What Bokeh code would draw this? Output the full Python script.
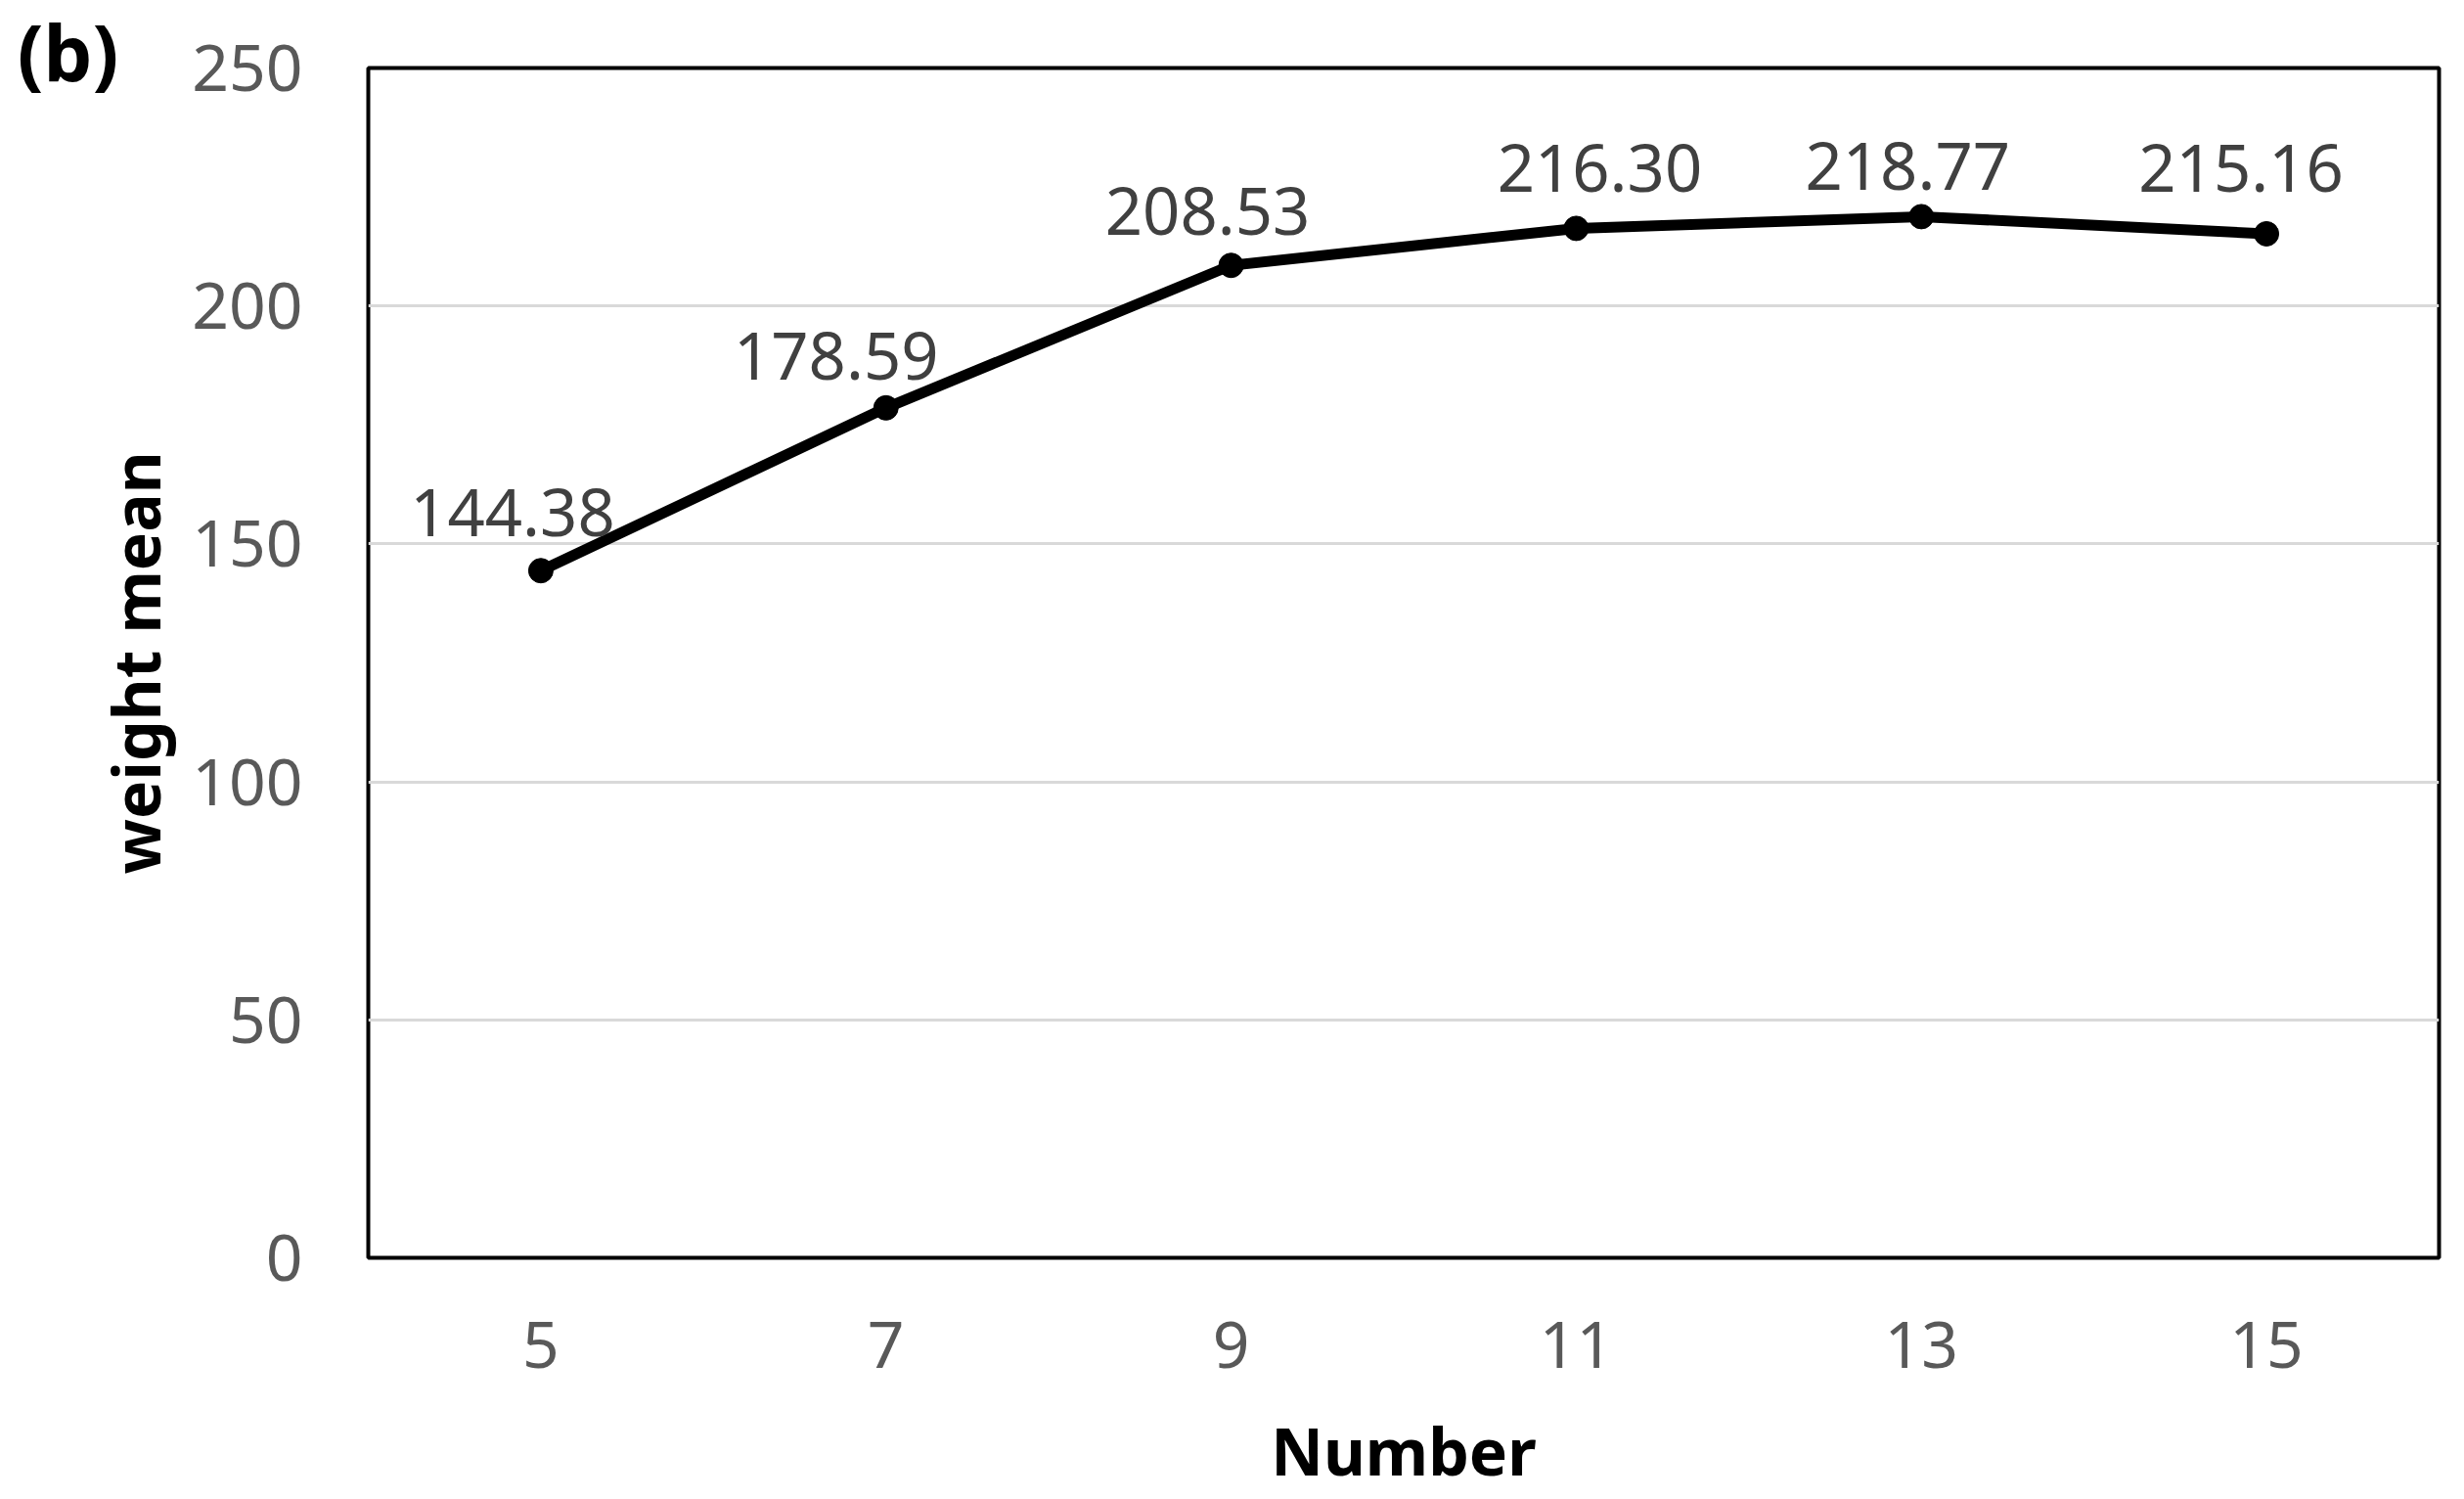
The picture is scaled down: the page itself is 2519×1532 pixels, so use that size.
import math
from bokeh.plotting import figure
from bokeh.models import ColumnDataSource, Range1d, FixedTicker, LabelSet, Label
from bokeh.core.properties import value
from bokeh.embed import file_html
from bokeh.resources import INLINE

# ---- data ----
numbers = [5, 7, 9, 11, 13, 15]
weight_mean = [144.38, 178.59, 208.53, 216.30, 218.77, 215.16]
y_ticks = [0, 50, 100, 150, 200, 250]

# ---- label placement (styling) ----
label_dx = [-29, -51, -24, 24, -14, -26]
label_dy = [35, 29, 31, 37, 27, 43]

FONT = "Noto Sans"

src = ColumnDataSource(dict(
    x=numbers, y=weight_mean,
    txt=["%.2f" % v for v in weight_mean],
    dx=label_dx, dy=label_dy,
))

p = figure(width=2503, height=1530, output_backend="svg", toolbar_location=None,
           x_range=Range1d(4, 16), y_range=Range1d(0, 250),
           min_border_left=375, min_border_right=10, min_border_top=69, min_border_bottom=245)
p.background_fill_color = "white"
p.border_fill_color = "white"
p.outline_line_color = "black"
p.outline_line_width = 4
p.outline_line_alpha = 1.0

p.line("x", "y", source=src, line_color="black", line_width=11)
p.scatter("x", "y", source=src, size=25, fill_color="black", line_color="black")

labels = LabelSet(x="x", y="y", text="txt", source=src, x_offset="dx", y_offset="dy",
                  text_align="center", text_baseline="alphabetic",
                  text_font=value(FONT), text_font_size="67px", text_color="#404040")
p.add_layout(labels)

# axes
p.xaxis.ticker = FixedTicker(ticks=numbers)
p.yaxis.ticker = FixedTicker(ticks=y_ticks)
for ax in (p.xaxis[0], p.yaxis[0]):
    ax.axis_line_color = None
    ax.major_tick_line_color = None
    ax.minor_tick_line_color = None
    ax.major_label_text_font = FONT
    ax.major_label_text_font_size = "66px"
    ax.major_label_text_color = "#595959"
    ax.axis_label_text_font = FONT
    ax.axis_label_text_font_size = "66px"
    ax.axis_label_text_font_style = "bold"
    ax.axis_label_text_color = "black"
p.xaxis.axis_label = "Number"
p.xaxis.major_label_standoff = 59
p.yaxis.major_label_standoff = 61
p.xaxis.axis_label_standoff = 36

p.xgrid.grid_line_color = None
p.ygrid.ticker = FixedTicker(ticks=y_ticks)
p.ygrid.grid_line_color = "#d9d9d9"
p.ygrid.grid_line_width = 3

# y-axis title as a rotated label in the left side panel
ytitle = Label(x=2.646, y=125, text="weight mean", angle=math.pi / 2,
               text_font=FONT, text_font_size="66px", text_font_style="bold",
               text_color="black", text_baseline="middle", text_align="center")
p.add_layout(ytitle, "left")

tag = Label(x=1.966, y=253.4, text="(b)", text_font=FONT, text_font_size="79px",
            text_font_style="bold", text_color="black", text_baseline="middle", text_align="left")
p.add_layout(tag, "left")

open("out.html", "w").write(file_html(p, INLINE))
